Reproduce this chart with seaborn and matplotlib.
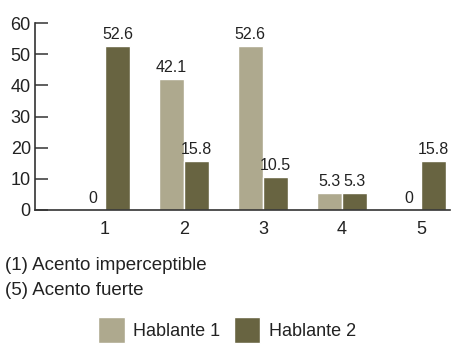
import matplotlib
matplotlib.use("Agg")
import matplotlib.pyplot as plt
import seaborn as sns
import pandas as pd

categories = ["1", "2", "3", "4", "5"]
hablante1 = [0, 42.1, 52.6, 5.3, 0]
hablante2 = [52.6, 15.8, 10.5, 5.3, 15.8]
series_names = ["Hablante 1", "Hablante 2"]
notes = ["(1) Acento imperceptible", "(5) Acento fuerte"]
yticks = [0, 10, 20, 30, 40, 50, 60]

colors = ["#aea98e", "#686441"]

sns.set_theme(style="white")
plt.rcParams["font.family"] = ["Liberation Sans", "DejaVu Sans"]

df = pd.DataFrame({
    "cat": categories * 2,
    "val": hablante1 + hablante2,
    "serie": [series_names[0]] * 5 + [series_names[1]] * 5,
})

fig = plt.figure(figsize=(4.52, 3.44), dpi=100)
ax = fig.add_axes([35 / 452, 1 - 210 / 344, 415 / 452, 187 / 344])

sns.barplot(data=df, x="cat", y="val", hue="serie", order=categories,
            hue_order=series_names, palette=colors, width=0.64,
            edgecolor="white", linewidth=1, saturation=1, ax=ax)

for cont in ax.containers:
    ax.bar_label(cont, labels=[("%g" % v) for v in cont.datavalues],
                 padding=3, fontsize=11.5, color="#222222")

ax.set_ylim(0, 60)
ax.set_xlim(-0.886, 4.367)
ax.set_yticks(yticks)
ax.set_xlabel("")
ax.set_ylabel("")
for s in ["top", "right"]:
    ax.spines[s].set_visible(False)
for s in ["left", "bottom"]:
    ax.spines[s].set_color("#333333")
    ax.spines[s].set_linewidth(1.2)
ax.tick_params(axis="y", direction="in", length=9.5, width=1.1, color="#333333",
               labelsize=13, pad=3, labelcolor="#222222", left=True)
ax.tick_params(axis="x", length=0, labelsize=13, pad=8, labelcolor="#222222")

handles, labels = ax.get_legend_handles_labels()
ax.legend_.remove()
fig.legend(handles, labels, loc="center", bbox_to_anchor=(227 / 452, 1 - 330 / 344),
           ncol=2, frameon=False, fontsize=13, handlelength=1.45, handleheight=1.9,
           handletextpad=0.45, columnspacing=0.8, borderpad=0, labelcolor="#222222")

fig.text(5 / 452, 1 - 270 / 344, notes[0], fontsize=13.5, va="baseline", color="#222222")
fig.text(5 / 452, 1 - 295 / 344, notes[1], fontsize=13.5, va="baseline", color="#222222")

fig.savefig("out.png", dpi=100)
